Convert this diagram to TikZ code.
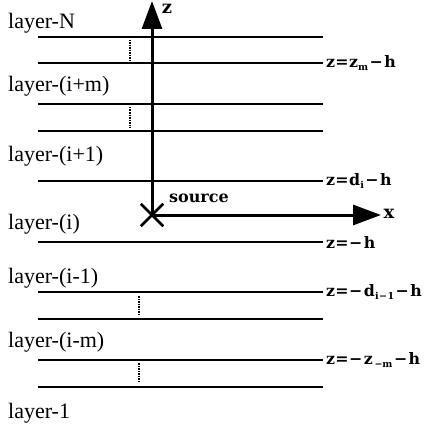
\documentclass[tikz,border=0pt]{standalone}
\usepackage{fontspec}
\usepackage{tikz}
\usetikzlibrary{arrows.meta,shapes.misc}
\newfontfamily\layerfont{Liberation Serif}
\newfontfamily\lblfont{DejaVu Serif}
\newcommand{\low}[1]{\raisebox{-0.35ex}{\fontsize{9.5}{10}\selectfont #1}}
\newcommand{\eqs}{\kern0.5pt=\kern0.5pt}
\newcommand{\mns}{\kern1.5pt−\kern1.5pt}

\begin{document}
\begin{tikzpicture}[x=1pt,y=-1pt,>={Triangle[length=28pt,width=20pt]},
    bound/.style={line width=2pt},
    axis/.style={line width=3pt,->},
    gap/.style={line width=1.5pt,dash pattern=on 1.5pt off 1pt},
    layerlbl/.style={anchor=base west,inner sep=0pt,font=\layerfont\fontsize{22}{24}\selectfont},
    zlbl/.style={anchor=west,inner sep=2pt,font=\lblfont\bfseries\fontsize{15.8}{17}\selectfont},
    axlbl/.style={inner sep=0pt,font=\lblfont\bfseries\fontsize{18}{20}\selectfont}]
  \useasboundingbox (0,0) rectangle (423,425);
  % layer boundaries
  \foreach \y in {37,104,131,319,387}
    \draw[bound] (38,\y) -- (323,\y);
  \draw[bound] (38,63) -- (323,63) node[zlbl] (zm) {z\eqs z\low{m}\mns h};
  \draw[bound] (38,181) -- (323,181) node[zlbl] (di) {z\eqs d\low{i}\mns h};
  \draw[bound] (38,242) -- (323,242) node[zlbl] (h0) {z\eqs −\kern1.5pt h};
  \draw[bound] (38,292) -- (323,292) node[zlbl] (dim) {z\eqs −\kern1.5pt d\low{i\kern0.5pt−\kern0.5pt1}\mns h};
  \draw[bound] (38,360) -- (323,360) node[zlbl] (zmm) {z\eqs −\kern1.5pt z\low{\,−m}\mns h};
  % skipped layers
  \foreach \x/\ya/\yb in {130/40/61,130/107/128,139/296/315,139/363/383}
    \draw[gap] (\x,\ya) -- (\x,\yb);
  % layer names
  \node[layerlbl] (lN) at (8,29) {layer-N};
  \node[layerlbl] (lim) at (8,92) {layer-(i+m)};
  \node[layerlbl] (lip) at (8,161) {layer-(i+1)};
  \node[layerlbl] (li) at (8,229) {layer-(i)};
  \node[layerlbl] (lin) at (8,283) {layer-(i-1)};
  \node[layerlbl] (linm) at (8,347) {layer-(i-m)};
  \node[layerlbl] (l1) at (8,418) {layer-1};
  % source and axes
  \node[draw,cross out,line width=2.5pt,minimum size=20pt,inner sep=0pt] (o) at (152,215) {};
  \coordinate (ztip) at (152,1);
  \coordinate (xtip) at (381,215);
  \draw[axis] (o.center) -- (ztip);
  \draw[axis] (o.center) -- (xtip);
  \node[axlbl] (zax) at (167,9) {z};
  \node[axlbl] (xax) at (389,214) {x};
  \node[axlbl,font=\lblfont\bfseries\fontsize{16}{18}\selectfont] (src) at (199,198) {source};
\end{tikzpicture}
\end{document}
